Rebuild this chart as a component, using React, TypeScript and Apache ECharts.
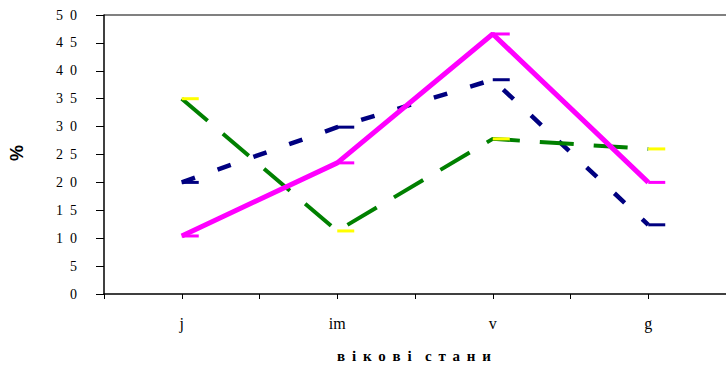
import React, { useEffect, useRef } from "react";
import * as echarts from "echarts";

const categories = ["j", "im", "v", "g"];
const tickSlots = ["a", "b", "c", "d", "e", "f", "g", "h"];
const greenSeries = [35, 11.3, 27.8, 26];
const navySeries = [20, 29.9, 38.4, 12.4];
const magentaSeries = [10.4, 23.5, 46.6, 20];
const yTicks = [0, 5, 10, 15, 20, 25, 30, 35, 40, 45, 50];

const EN = "\u2002";
const GAP = " \u2009";

export default function App() {
  const ref = useRef<HTMLDivElement>(null);
  useEffect(() => {
    if (!ref.current) return;
    const chart = echarts.init(ref.current, null, { renderer: "svg" });
    const splitColors = yTicks.map((v, i) => (i === yTicks.length - 1 ? "#808080" : "rgba(0,0,0,0)"));
    const marker = (color: string) => ({
      symbol: "rect",
      symbolSize: [17, 3],
      symbolOffset: [8.5, 0],
      itemStyle: { color },
      showSymbol: true,
    });
    chart.setOption({
      animation: false,
      backgroundColor: "#ffffff",
      grid: { left: 104, right: -8, top: 15, bottom: 72, containLabel: false },
      xAxis: [
        {
          type: "category",
          data: categories,
          boundaryGap: true,
          axisLine: { show: true, lineStyle: { color: "#000", width: 1.5 } },
          axisTick: { show: false },
          axisLabel: {
            margin: 21,
            fontFamily: "Liberation Serif",
            fontSize: 16,
            color: "#000",
          },
        },
        {
          type: "category",
          data: tickSlots,
          position: "bottom",
          boundaryGap: true,
          axisLine: { show: false },
          axisTick: { show: true, length: 5, lineStyle: { color: "#000", width: 1 } },
          axisLabel: { show: false },
        },
      ],
      yAxis: {
        type: "value",
        min: 0,
        max: 50,
        interval: 5,
        axisLine: { show: true, lineStyle: { color: "#000", width: 1.5 } },
        axisTick: { show: true, length: 8, lineStyle: { color: "#000" } },
        splitLine: { show: true, lineStyle: { color: splitColors, width: 2 } },
        axisLabel: {
          margin: 27,
          fontFamily: "Liberation Serif",
          fontSize: 14,
          color: "#000",
          formatter: (v: number) => String(v).split("").join(EN),
        },
      },
      graphic: [
        {
          type: "text",
          x: 17,
          y: 153,
          rotation: Math.PI / 2,
          style: {
            text: "%",
            font: "bold 18px 'Liberation Sans'",
            fill: "#000",
            align: "center",
            verticalAlign: "middle",
          },
        },
        {
          type: "text",
          x: 414,
          y: 356,
          style: {
            text: ["в", "і", "к", "о", "в", "і"].join(GAP) + GAP + GAP + ["с", "т", "а", "н", "и"].join(GAP),
            font: "bold 15px 'Liberation Serif'",
            fill: "#000",
            align: "center",
            verticalAlign: "middle",
          },
        },
      ],
      series: [
        {
          type: "line",
          data: navySeries,
          lineStyle: { color: "#000080", width: 4.5, type: [14, 24], cap: "butt" },
          ...marker("#000080"),
          z: 2,
        },
        {
          type: "line",
          data: greenSeries,
          lineStyle: { color: "#008000", width: 4, type: [34, 20], cap: "butt" },
          ...marker("#ffff00"),
          z: 3,
        },
        {
          type: "line",
          data: magentaSeries,
          lineStyle: { color: "#ff00ff", width: 5, type: "solid" },
          ...marker("#ff00ff"),
          z: 4,
        },
      ],
    });
    return () => chart.dispose();
  }, []);
  return <div ref={ref} style={{ width: 726, height: 366, position: "absolute", left: 0, top: 0 }} />;
}
